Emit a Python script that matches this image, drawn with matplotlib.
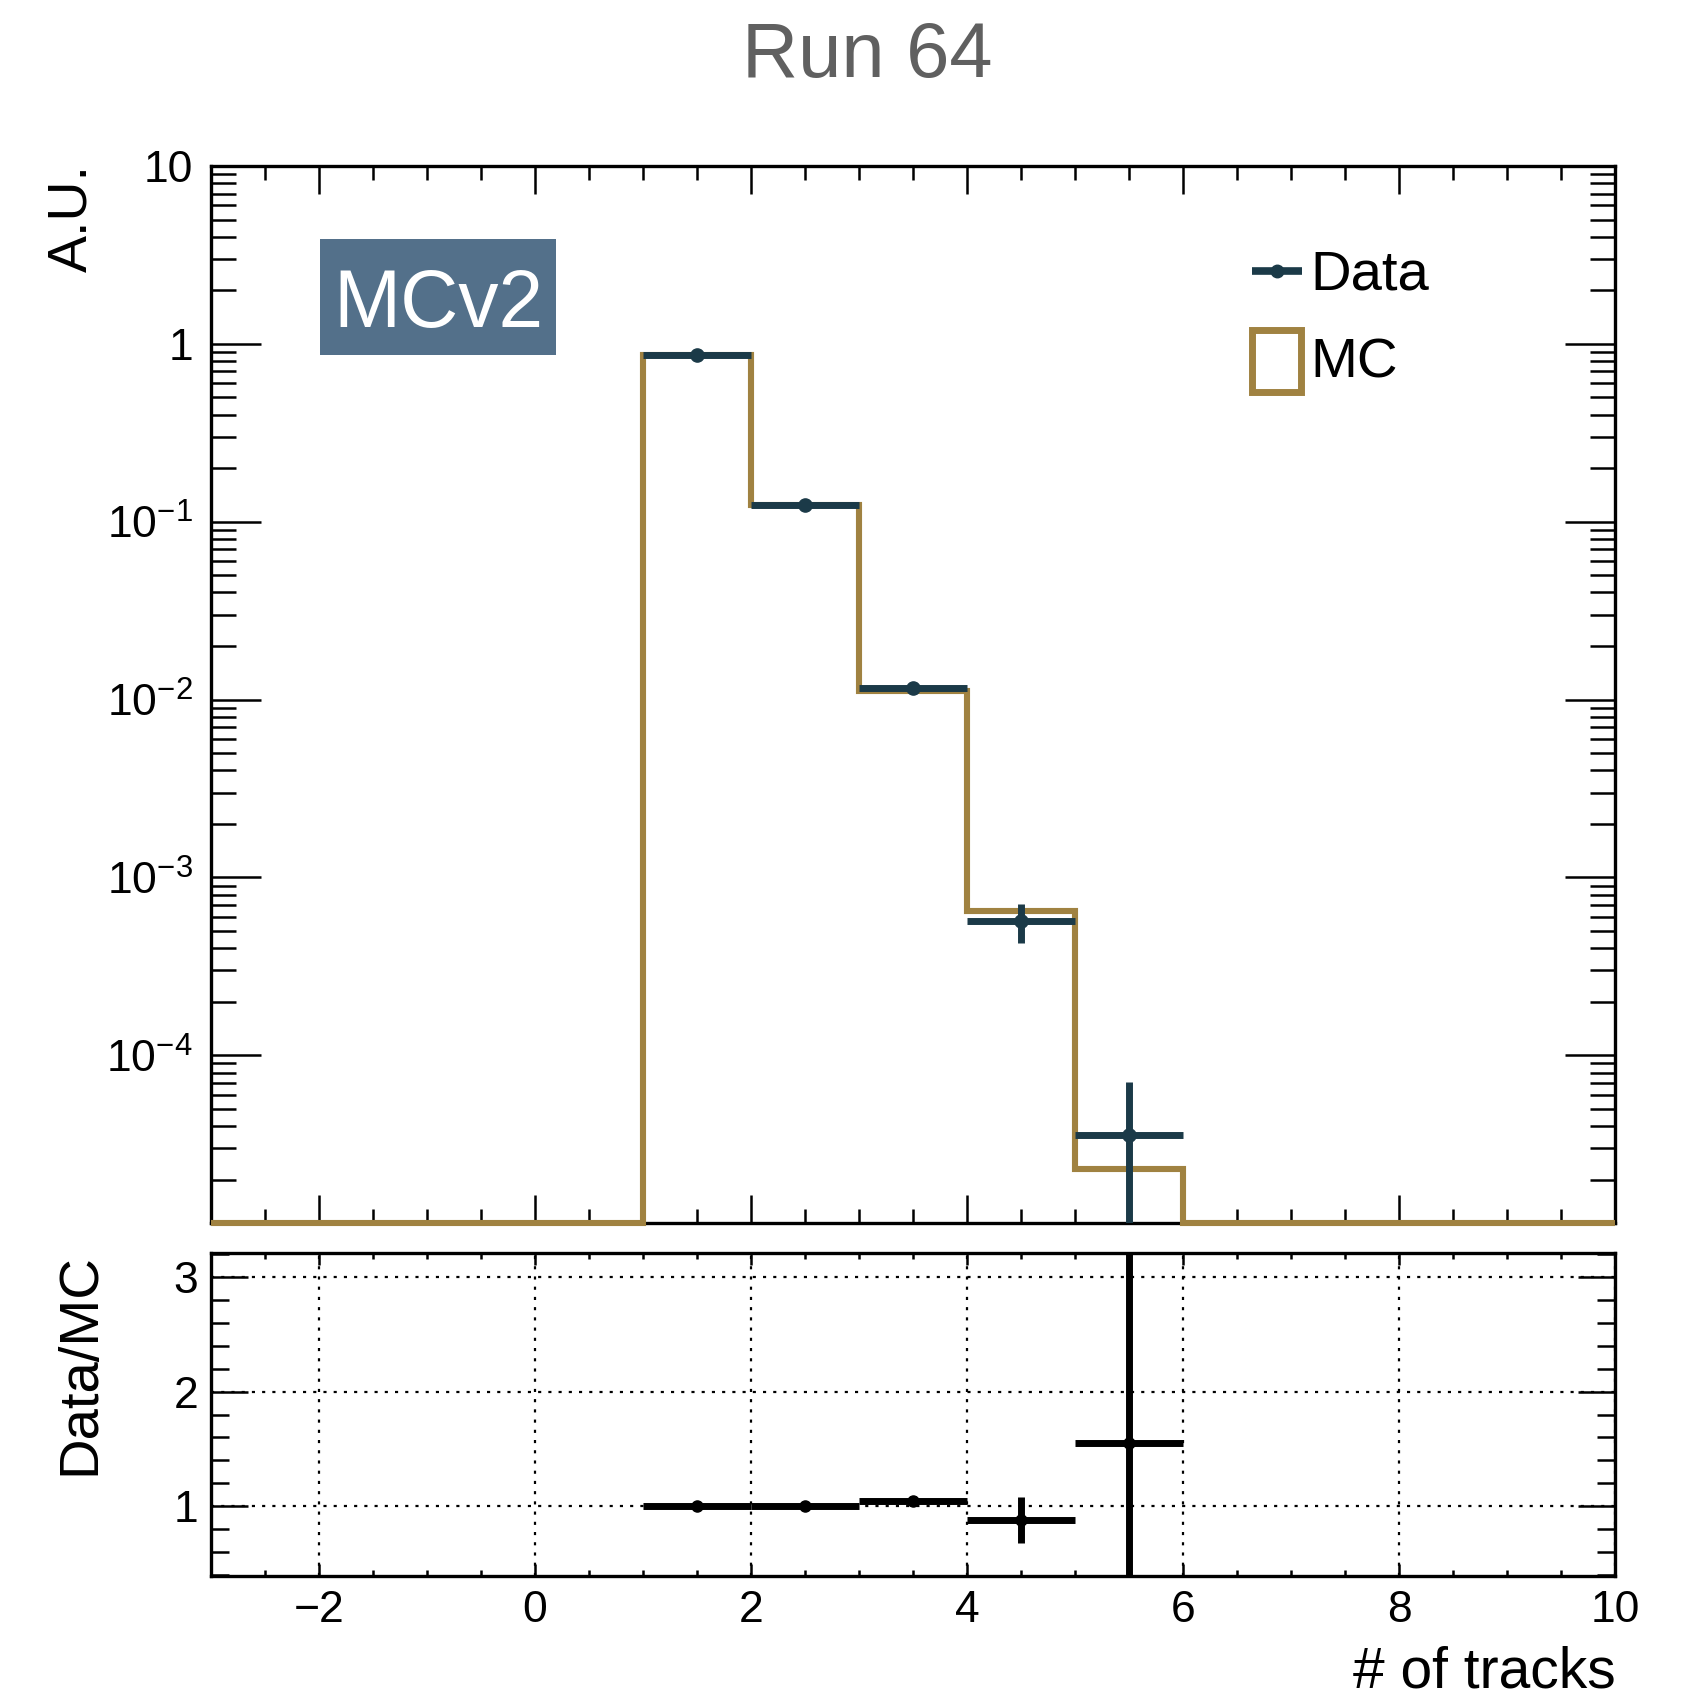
import numpy as np
import matplotlib
matplotlib.use("Agg")
import matplotlib.pyplot as plt
from matplotlib.ticker import MultipleLocator, LogLocator, NullFormatter, FixedLocator
from matplotlib.lines import Line2D
from matplotlib.patches import Rectangle

plt.rcParams['font.family'] = ['Liberation Sans', 'DejaVu Sans']
plt.rcParams['mathtext.fontset'] = 'custom'
plt.rcParams['mathtext.rm'] = 'Liberation Sans'
plt.rcParams['mathtext.it'] = 'Liberation Sans:italic'
plt.rcParams['mathtext.bf'] = 'Liberation Sans:bold'

# ---------------- data ----------------
bin_edges = np.arange(-3, 11, 1)               # 13 bins of width 1
data_centers = [1.5, 2.5, 3.5, 4.5, 5.5]
data_values = [0.862, 0.1247, 0.01167, 5.69e-4, 3.56e-5]
data_errors = [0.002, 0.0012, 3.5e-4, 1.4e-4, 3.49e-5]
mc_values = [0, 0, 0, 0, 0.862, 0.1247, 0.01124, 6.44e-4, 2.29e-5, 0, 0, 0, 0]
ratio_values = [1.0, 1.0, 1.045, 0.877, 1.555]
ratio_errors = [0.005, 0.01, 0.04, 0.2, 1.8]
y_tick_values = [1e-4, 1e-3, 1e-2, 1e-1, 1, 10]
y_tick_labels = [r'$\mathregular{10^{-4}}$', r'$\mathregular{10^{-3}}$',
                 r'$\mathregular{10^{-2}}$', r'$\mathregular{10^{-1}}$', '1', '10']
ratio_ticks = [1, 2, 3]
x_ticks = [-2, 0, 2, 4, 6, 8, 10]
x_tick_labels = ['\u22122', '0', '2', '4', '6', '8', '10']

DATA_C = '#1b3a48'
MC_C = '#a08241'
BOX_C = '#53708a'

W, H = 1690, 1697
fig = plt.figure(figsize=(W / 100, H / 100), dpi=100)

def fx(px):
    return px / W

def fy(py):
    return 1 - py / H

L, R = 211, 1615
ax = fig.add_axes([fx(L), fy(1223), fx(R) - fx(L), fy(166) - fy(1223)])
ax2 = fig.add_axes([fx(L), fy(1576), fx(R) - fx(L), fy(1253) - fy(1576)])

TICK_FS = 32
ylo, yhi = 1.14e-5, 10
# ---------------- upper panel ----------------
ax.set_yscale('log')
ax.set_xlim(-3, 10)
ax.set_ylim(ylo, yhi)
mc_arr = np.array(mc_values, dtype=float)
mc_plot = np.where(mc_arr > 0, mc_arr, ylo)
ax.stairs(mc_plot, bin_edges, color=MC_C, lw=4.4, baseline=None, clip_on=False, zorder=3)
ax.errorbar(data_centers, data_values, xerr=0.5, yerr=data_errors, fmt='o',
            color=DATA_C, ms=9.5, elinewidth=5, capsize=0, zorder=4)

ax.xaxis.set_major_locator(MultipleLocator(2))
ax.xaxis.set_minor_locator(MultipleLocator(0.5))
ax.yaxis.set_major_locator(FixedLocator(y_tick_values))
ax.set_yticklabels(y_tick_labels)
ax.yaxis.set_minor_locator(LogLocator(base=10, subs=np.arange(2, 10), numticks=50))
ax.yaxis.set_minor_formatter(NullFormatter())
ax.tick_params(axis='x', which='both', direction='in', top=True, bottom=True,
               labelbottom=False, width=1.8)
ax.tick_params(axis='x', which='major', length=20)
ax.tick_params(axis='x', which='minor', length=10)
ax.tick_params(axis='y', which='both', direction='in', left=True, right=True, width=1.8,
               labelsize=TICK_FS, pad=13)
ax.tick_params(axis='y', which='major', length=36)
ax.tick_params(axis='y', which='minor', length=18)
for s in ax.spines.values():
    s.set_linewidth(2.4)

# MCv2 box
ax_box = Rectangle((fx(320), fy(355)), fx(556) - fx(320), fy(239) - fy(355),
                   transform=fig.transFigure, facecolor=BOX_C, edgecolor='none', zorder=5)
fig.add_artist(ax_box)
fig.text(fx(438), fy(297), 'MCv2', color='white', fontsize=58, ha='center',
         va='center_baseline', zorder=6)

# legend (manual, ROOT style)
fig.add_artist(Line2D([fx(1252), fx(1302)], [fy(271), fy(271)], color=DATA_C, lw=5.5,
                      solid_capstyle='butt'))
fig.add_artist(Line2D([fx(1277)], [fy(271)], marker='o', color=DATA_C, ms=9))
fig.text(fx(1310), fy(290), 'Data', fontsize=40.5, ha='left', va='baseline')
fig.add_artist(Rectangle((fx(1252.5), fy(391.5)), fx(1301.5) - fx(1252.5),
                         fy(329.5) - fy(391.5), transform=fig.transFigure,
                         facecolor='none', edgecolor=MC_C, lw=5))
fig.text(fx(1310), fy(377), 'MC', fontsize=40.5, ha='left', va='baseline')

# ---------------- lower panel ----------------
ax2.set_xlim(-3, 10)
ax2.set_ylim(0.39, 3.21)
ax2.errorbar(data_centers, ratio_values, xerr=0.5, yerr=ratio_errors, fmt='o',
             color='black', ms=8, elinewidth=5, capsize=0, zorder=4)
ax2.xaxis.set_major_locator(FixedLocator(x_ticks))
ax2.xaxis.set_minor_locator(MultipleLocator(0.5))
ax2.yaxis.set_major_locator(FixedLocator(ratio_ticks))
ax2.yaxis.set_minor_locator(MultipleLocator(0.2))
ax2.set_xticklabels(x_tick_labels)
ax2.tick_params(axis='x', which='both', direction='in', top=True, bottom=True,
                width=1.8, labelsize=TICK_FS, pad=10)
ax2.tick_params(axis='x', which='major', length=8.6)
ax2.tick_params(axis='x', which='minor', length=4)
ax2.tick_params(axis='y', which='both', direction='in', left=True, right=True,
                width=1.8, labelsize=TICK_FS, pad=9)
ax2.tick_params(axis='y', which='major', length=26.6)
ax2.tick_params(axis='y', which='minor', length=13)
ax2.grid(True, which='major', color='black', lw=1.6, ls=(0, (1.4, 3.2)))
for s in ax2.spines.values():
    s.set_linewidth(2.4)

# ---------------- texts ----------------
fig.text(fx(867), fy(77), 'Run 64', fontsize=56, color='#606060', ha='center', va='baseline')
fig.text(fx(72), fy(164), 'A.U.', fontsize=40, rotation=90, ha='center', va='top')
fig.text(fx(80), fy(1253), 'Data/MC', fontsize=40.5, rotation=90, ha='center', va='top')
fig.text(fx(1616), fy(1688), '# of tracks', fontsize=41, ha='right', va='baseline')

fig.savefig('out.png', dpi=100, facecolor='white')
